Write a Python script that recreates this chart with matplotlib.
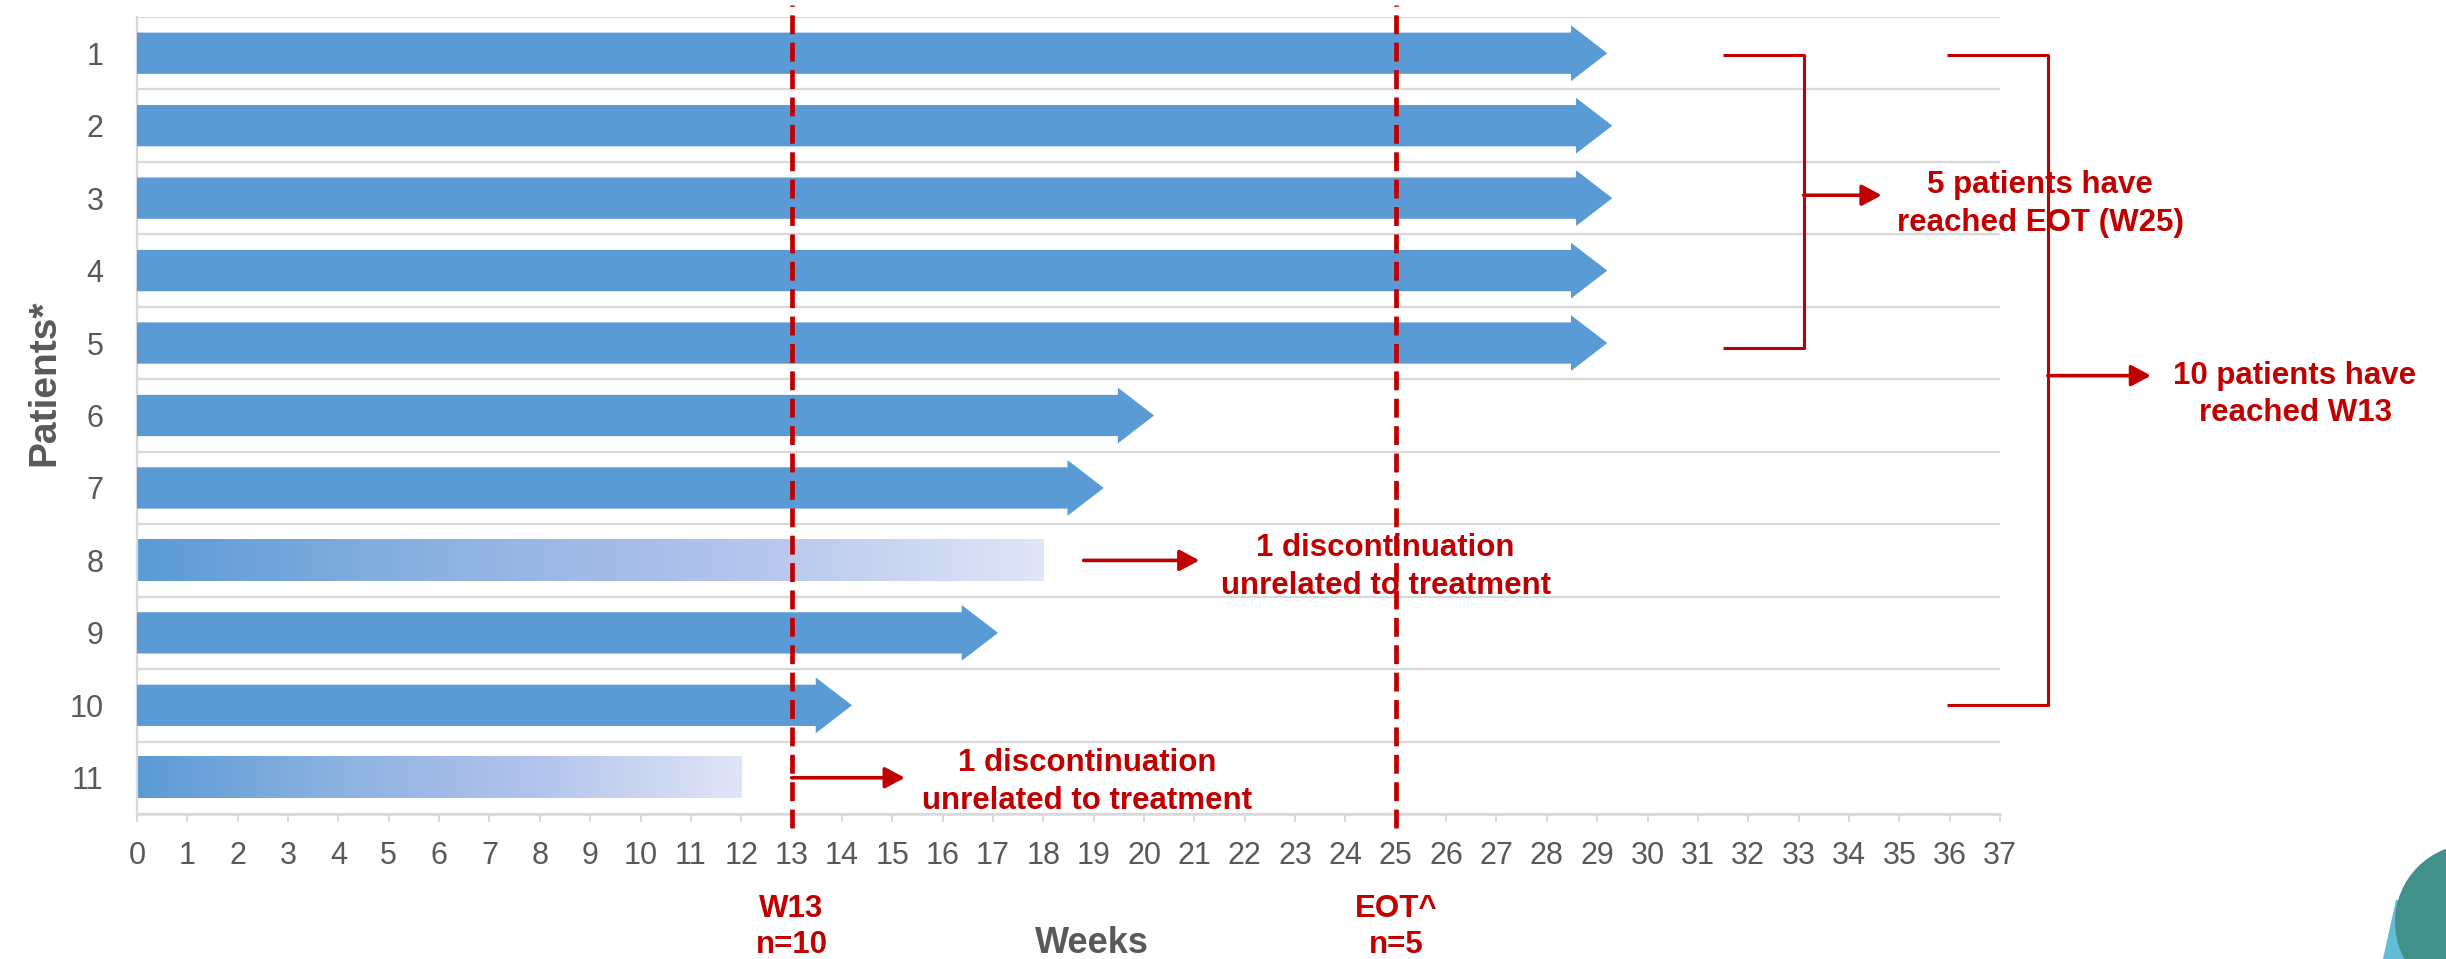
import matplotlib
matplotlib.use("Agg")
import matplotlib.pyplot as plt
import numpy as np
from matplotlib.patches import Polygon, FancyArrowPatch, Ellipse
from matplotlib.colors import LinearSegmentedColormap
import matplotlib.transforms as mtransforms

plt.rcParams['font.family'] = ['Liberation Sans', 'DejaVu Sans']

# ---------------- data ----------------
patients = [1, 2, 3, 4, 5, 6, 7, 8, 9, 10, 11]
end_weeks = [29.2, 29.3, 29.3, 29.2, 29.2, 20.2, 19.2, 18.0, 17.1, 14.2, 12.0]
discontinued = [False, False, False, False, False, False, False, True, False, False, True]
week_ticks = list(range(0, 38))
milestone_weeks = [13, 25]
milestone_labels = ["W13\nn=10", "EOT^\nn=5"]
disc_text = "1 discontinuation\nunrelated to treatment"
eot_text = "5 patients have\nreached EOT (W25)"
w13_text = "10 patients have\nreached W13"

BLUE = '#5b9bd5'
RED = '#c00000'
GRAY = '#595959'
GRID = '#d9d9d9'
RFS = 22.5   # red annotation font size
LS = 1.33

W, H = 2446, 959
fig = plt.figure(figsize=(W / 100, H / 100), dpi=100)
ax = fig.add_axes([137 / W, 1 - 814 / H, (2000 - 137) / W, (814 - 17) / H])
ax.set_xlim(0, 37)
ax.set_ylim(11.5, 0.5)

# gridlines at row boundaries
for b in np.arange(0.5, 11.6, 1.0):
    ax.axhline(b, color=GRID, lw=1.6, zorder=1)

body_h = 0.285
head_h = 0.385
head_len = 0.72
grad_cmap = LinearSegmentedColormap.from_list(
    'fade', ['#5b9bd5', '#8db2e2', '#b4c4ec', '#e0e5f7'])
grad = np.linspace(0, 1, 256).reshape(1, -1)

for p, e, d in zip(patients, end_weeks, discontinued):
    if d:
        ax.imshow(grad, extent=[0, e, p + body_h, p - body_h], cmap=grad_cmap,
                  aspect='auto', zorder=2, interpolation='bilinear')
    else:
        pts = [(0, p - body_h), (e - head_len, p - body_h), (e - head_len, p - head_h),
               (e, p), (e - head_len, p + head_h), (e - head_len, p + body_h),
               (0, p + body_h)]
        ax.add_patch(Polygon(pts, closed=True, facecolor=BLUE, edgecolor='none', zorder=3))

ax.set_xlim(0, 37)
ax.set_ylim(11.5, 0.5)

# milestone dashed lines
blend = mtransforms.blended_transform_factory(ax.transData, ax.transAxes)
for m, lab in zip(milestone_weeks, milestone_labels):
    ax.plot([m, m], [-0.018, 1.015], transform=blend, color=RED, lw=3.4,
            dashes=(4, 1.8), clip_on=False, zorder=6)
    ax.text(m, -0.142, lab, transform=blend, ha='center', va='center', color=RED,
            fontsize=RFS, fontweight='bold', linespacing=1.27, clip_on=False)

# axes styling
for s in ['top', 'right']:
    ax.spines[s].set_visible(False)
ax.spines['left'].set_color(GRID)
ax.spines['left'].set_linewidth(1.6)
ax.spines['bottom'].set_color(GRID)
ax.spines['bottom'].set_linewidth(1.8)
ax.set_xticks(week_ticks)
ax.set_xticklabels([str(t) for t in week_ticks])
ax.set_yticks(patients)
ax.set_yticklabels([str(p) for p in patients])
ax.tick_params(axis='x', length=6, width=1.5, color=GRID, labelcolor=GRAY,
               labelsize=22, pad=13.5)
ax.tick_params(axis='y', length=0, labelcolor=GRAY, labelsize=22, pad=24)

ax.text(18.97, -0.162, "Weeks", transform=blend, ha='center', va='center',
        color=GRAY, fontsize=26, fontweight='bold')
fig.text(44 / W, 1 - 383 / H, "Patients*", rotation=90, ha='center', va='center',
         color=GRAY, fontsize=28, fontweight='bold')

def red_arrow(x0, x1, y, lw=2.6):
    a = FancyArrowPatch((x0, y), (x1, y), arrowstyle='-|>,head_length=0.6,head_width=0.32',
                        mutation_scale=20, color=RED, lw=lw, shrinkA=0, shrinkB=0,
                        clip_on=False, zorder=7)
    ax.add_patch(a)

def red_line(xs, ys, lw=2.2):
    ax.plot(xs, ys, color=RED, lw=lw, clip_on=False, zorder=7, solid_capstyle='butt')

# discontinuation notes
red_arrow(18.8, 21.1, 8.0)
ax.text(24.8, 8.09, disc_text, ha='center', va='center', color=RED, fontsize=RFS,
        fontweight='bold', linespacing=LS, zorder=4)
red_arrow(13.0, 15.25, 11.0)
ax.text(18.87, 11.06, disc_text, ha='center', va='center', color=RED, fontsize=RFS,
        fontweight='bold', linespacing=LS, zorder=4, clip_on=False)

# bracket 1: 5 patients reached EOT
red_line([31.5, 33.1, 33.1, 31.5], [1.02, 1.02, 5.07, 5.07])
red_arrow(33.1, 34.65, 2.96)
ax.text(37.8, 3.08, eot_text, ha='center', va='center', color=RED, fontsize=RFS,
        fontweight='bold', linespacing=LS, clip_on=False, zorder=4)

# bracket 2: 10 patients reached W13
red_line([35.95, 37.95, 37.95, 35.95], [1.02, 1.02, 10.0, 10.0])
red_arrow(37.95, 40.0, 5.45)
ax.text(42.86, 5.71, w13_text, ha='center', va='center', color=RED, fontsize=RFS,
        fontweight='bold', linespacing=LS, clip_on=False, zorder=4)

# decorative shapes bottom-right
fig.patches.append(Polygon([(2383 / W, 0), (2396 / W, 1 - 900 / H), (1, 1 - 900 / H), (1, 0)],
                           closed=True, transform=fig.transFigure,
                           facecolor='#62bcd6', edgecolor='none'))
fig.patches.append(Ellipse((2473 / W, 1 - 922 / H), 2 * 78 / W, 2 * 78 / H,
                           transform=fig.transFigure, facecolor='#42908a', edgecolor='none'))

fig.savefig('out.png', dpi=100)
